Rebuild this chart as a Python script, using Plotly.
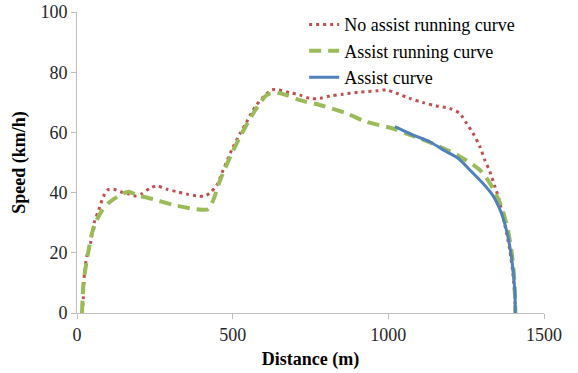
import plotly.graph_objects as go

# Data
no_assist_x = [17, 20, 24, 32, 43, 55, 70, 85, 99, 117, 139, 165, 187, 208, 235, 257,
               289, 321, 353, 385, 412, 428, 449, 465, 497, 524, 545, 572, 599, 625,
               647, 684, 716, 748, 780, 813, 855, 909, 962, 994, 1026, 1069, 1112,
               1154, 1197, 1229, 1251, 1272, 1294, 1310, 1326, 1342, 1353, 1374,
               1390, 1400, 1406, 1408]
no_assist_y = [0, 4.4, 13.3, 19, 23, 29.9, 34.3, 38.7, 40.9, 41.1, 40.3, 39.6, 38.9,
               39.6, 41.5, 42.2, 41.1, 40.3, 39.5, 38.9, 38.9, 40, 42.5, 46.4, 54.2,
               59.7, 63.5, 68.5, 71.8, 74.1, 74.1, 73.2, 72.4, 71.3, 71.3, 72.1, 72.7,
               73.4, 73.8, 74.1, 73, 71.3, 69.9, 68.8, 68, 66.3, 63, 59.7, 55.3, 50.8,
               47, 42, 38.7, 29.3, 21, 13, 6, 0]

assist_run_x = [16, 18, 21, 26, 32, 40, 48, 60, 75, 101, 120, 139, 165, 192, 245, 310,
                385, 422, 438, 460, 497, 524, 566, 609, 635, 673, 716, 780, 866, 930,
                1015, 1060, 1101, 1160, 1229, 1294, 1331, 1363, 1384, 1395, 1403, 1407,
                1408]
assist_run_y = [0, 5, 10, 14, 17.7, 22.5, 26.5, 30, 33.2, 36.5, 38, 39.2, 40.3, 39.2,
                37.8, 35.9, 34.5, 34.5, 37.6, 44.2, 53, 58.6, 66.3, 72.4, 73.2, 72.4,
                70.7, 69.1, 66.3, 63.5, 61.3, 59.5, 58, 55.5, 52, 47.5, 42.3, 35.4,
                27.6, 21, 13.3, 5, 0]

assist_x = [1021, 1080, 1133, 1176, 1224, 1262, 1300, 1336, 1363, 1384, 1398, 1406, 1408]
assist_y = [61.9, 59.1, 56.9, 54.2, 51.4, 47.5, 43.5, 39, 33.2, 25.4, 16.6, 7.7, 0]

x_ticks = [0, 500, 1000, 1500]
y_ticks = [0, 20, 40, 60, 80, 100]

FONT = "Liberation Serif, Times New Roman, serif"

fig = go.Figure()
fig.add_trace(go.Scatter(
    x=no_assist_x, y=no_assist_y, mode="lines", name="No assist running curve",
    line=dict(color="#C0504D", width=3, dash="3px,4px", shape="spline", smoothing=0.8)))
fig.add_trace(go.Scatter(
    x=assist_run_x, y=assist_run_y, mode="lines", name="Assist running curve",
    line=dict(color="#9BBB59", width=4, dash="12px,7px", shape="spline", smoothing=0.8)))
fig.add_trace(go.Scatter(
    x=assist_x, y=assist_y, mode="lines", name="Assist curve",
    line=dict(color="#4F81BD", width=3, shape="spline", smoothing=0.8)))

axis_common = dict(
    showgrid=False, zeroline=False, showline=True, linecolor="#BFBFBF", linewidth=1,
    ticks="outside", ticklen=5, tickcolor="#BFBFBF", tickwidth=1, automargin=False,
    tickfont=dict(family=FONT, size=18, color="#262626"),
)

fig.update_layout(
    width=578, height=373,
    margin=dict(l=77, r=34, t=12, b=60, autoexpand=False),
    paper_bgcolor="white", plot_bgcolor="white",
    font=dict(family=FONT, size=18, color="#000000"),
    showlegend=True,
    legend=dict(x=0.4864, y=1.0193, xanchor="left", yanchor="top",
                bgcolor="rgba(0,0,0,0)", borderwidth=0,
                font=dict(family=FONT, size=18, color="#000000"),
                tracegroupgap=0, itemwidth=30),
    xaxis=dict(range=[0, 1500], tickvals=x_ticks,
               title=dict(text="<b>Distance (m)</b>", font=dict(family=FONT, size=18),
                          standoff=8),
               **axis_common),
    yaxis=dict(range=[0, 100], tickvals=y_ticks,
               title=dict(text="<b>Speed (km/h)</b>", font=dict(family=FONT, size=18),
                          standoff=10),
               **axis_common),
)

fig.write_html("out.html")
